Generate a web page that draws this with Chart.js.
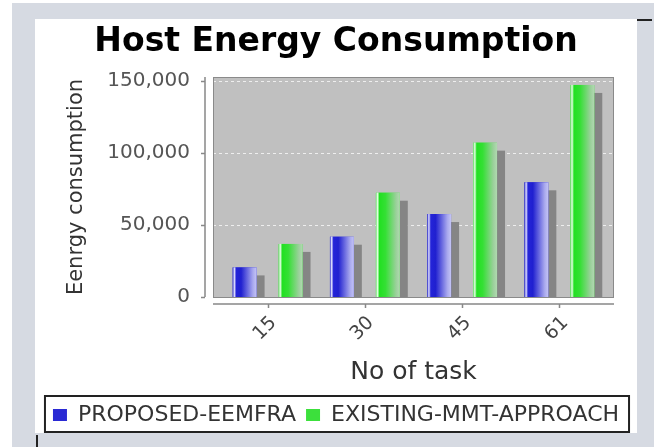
<!DOCTYPE html>
<html>
<head>
<meta charset="utf-8">
<script src="https://cdn.jsdelivr.net/npm/chart.js@4/dist/chart.umd.min.js"></script>
<style>
  html, body { margin: 0; padding: 0; background: #d6dae2; }
  #wrap { width: 654px; height: 447px; }
</style>
</head>
<body>
<div id="wrap"><canvas id="myChart" width="654" height="447"></canvas></div>
<script>
const tasks = ['15', '30', '45', '61'];
const proposed = [20500, 41800, 57500, 79500];
const existing = [36800, 72300, 107000, 147000];
const yTicks = [0, 50000, 100000, 150000];
const yMax = 152500;

const seriesNames = ['PROPOSED-EEMFRA', 'EXISTING-MMT-APPROACH'];
const baseColors = ['#2a2ad4', '#3ce03c'];
const gradStops = [
  [[0, '#3434c8'], [0.07, '#e4e4ff'], [0.15, '#2424d8'], [0.35, '#2020d0'], [0.85, '#aaaaee'], [1, '#c4c4f6']],
  [[0, '#70e070'], [0.07, '#e4ffe4'], [0.15, '#22e022'], [0.4, '#34e034'], [0.85, '#9cd09c'], [1, '#b0dab0']]
];

// backgrounds, plot area, shadows, gradients and axis lines
const painter = {
  id: 'painter',
  beforeDraw(chart) {
    const c = chart.ctx;
    const a = chart.chartArea;
    c.save();
    c.fillStyle = '#d6dae2';
    c.fillRect(0, 0, chart.width, chart.height);
    c.fillStyle = '#ffffff';
    c.fillRect(0, 0, 12, chart.height);
    c.fillRect(0, 0, chart.width, 3);
    c.fillRect(35, 19, 602, 414);
    // plot background
    c.fillStyle = '#c0c0c0';
    c.fillRect(a.left - 6, a.top, a.right - a.left + 12, a.bottom - a.top);
    // dashed grid
    const y = chart.scales.y;
    c.strokeStyle = '#eeeeee';
    c.lineWidth = 1;
    c.setLineDash([3, 3]);
    yTicks.forEach(v => {
      if (v === 0) return;
      const py = Math.round(y.getPixelForValue(v)) + 0.5;
      c.beginPath();
      c.moveTo(a.left - 6, py);
      c.lineTo(a.right + 6, py);
      c.stroke();
    });
    c.setLineDash([]);
    c.restore();
  },
  beforeDatasetsDraw(chart) {
    const c = chart.ctx;
    const a = chart.chartArea;
    c.save();
    c.beginPath();
    c.rect(a.left - 6, a.top, a.right - a.left + 12, a.bottom - a.top);
    c.clip();
    c.fillStyle = '#858585';
    chart.data.datasets.forEach((ds, i) => {
      chart.getDatasetMeta(i).data.forEach(bar => {
        c.fillRect(bar.x - bar.width / 2 + 8, bar.y + 8, bar.width, bar.base - bar.y);
      });
    });
    c.restore();
  },
  afterDatasetsDraw(chart) {
    const c = chart.ctx;
    c.save();
    chart.data.datasets.forEach((ds, i) => {
      chart.getDatasetMeta(i).data.forEach(bar => {
        const x0 = bar.x - bar.width / 2;
        const g = c.createLinearGradient(x0, 0, x0 + bar.width, 0);
        gradStops[i].forEach(s => g.addColorStop(s[0], s[1]));
        c.fillStyle = g;
        c.fillRect(x0, bar.y, bar.width, bar.base - bar.y);
      });
    });
    c.restore();
  },
  afterDraw(chart) {
    const c = chart.ctx;
    const a = chart.chartArea;
    const x = chart.scales.x;
    const y = chart.scales.y;
    c.save();
    // plot outline
    c.strokeStyle = '#8a8a8a';
    c.lineWidth = 1;
    c.strokeRect(a.left - 6 + 0.5, a.top + 0.5, a.right - a.left + 11, a.bottom - a.top);
    // y axis line + ticks
    c.strokeStyle = '#888888';
    c.lineWidth = 1.5;
    c.beginPath();
    c.moveTo(205, a.top);
    c.lineTo(205, a.bottom);
    yTicks.forEach(v => {
      const py = Math.round(y.getPixelForValue(v)) + 0.5;
      c.moveTo(201, py);
      c.lineTo(205, py);
    });
    // x axis line + ticks
    c.moveTo(a.left - 6, 304);
    c.lineTo(a.right + 6, 304);
    tasks.forEach((t, i) => {
      const px = Math.round(x.getPixelForValue(i)) + 0.5;
      c.moveTo(px, 304);
      c.lineTo(px, 308);
    });
    c.stroke();
    // legend frame
    const lg = chart.legend;
    if (lg && lg.legendHitBoxes.length) {
      const hb = lg.legendHitBoxes;
      const l = hb[0].left - 8;
      const r = hb[hb.length - 1].left + hb[hb.length - 1].width + 10;
      c.strokeStyle = '#222222';
      c.lineWidth = 2;
      c.strokeRect(l, lg.top + 2, r - l, 36);
    }
    // odd little marks of the screenshot frame
    c.fillStyle = '#222222';
    c.fillRect(36, 435, 2, 12);
    c.fillRect(637, 19, 15, 2);
    c.restore();
  }
};

const ctx = document.getElementById('myChart');

new Chart(ctx, {
  type: 'bar',
  data: {
    labels: tasks,
    datasets: [{
      label: seriesNames[0],
      data: proposed,
      backgroundColor: baseColors[0],
      categoryPercentage: 0.945,
      barPercentage: 0.52
    }, {
      label: seriesNames[1],
      data: existing,
      backgroundColor: baseColors[1],
      categoryPercentage: 0.945,
      barPercentage: 0.52
    }]
  },
  options: {
    responsive: false,
    animation: false,
    layout: { padding: { left: 35, right: 17, top: 0, bottom: 11 } },
    plugins: {
      title: {
        display: true,
        text: 'Host Energy Consumption',
        color: '#000000',
        font: { family: 'DejaVu Sans', size: 33, weight: 'bold' },
        padding: { top: 22.7, bottom: 14.7 }
      },
      legend: {
        position: 'bottom',
        labels: {
          boxWidth: 14,
          boxHeight: 12,
          padding: 10,
          color: '#333333',
          font: { family: 'DejaVu Sans', size: 22 }
        }
      },
      tooltip: { enabled: false }
    },
    scales: {
      x: {
        offset: true,
        grid: { display: false, drawTicks: false },
        border: { display: false },
        ticks: {
          minRotation: 45,
          maxRotation: 45,
          padding: 15,
          labelOffset: 6,
          color: '#444444',
          font: { family: 'DejaVu Sans', size: 19 }
        },
        title: {
          display: true,
          text: 'No of task',
          color: '#333333',
          font: { family: 'DejaVu Sans', size: 25 },
          padding: { top: 0, bottom: 6.6 }
        },
        afterFit(scale) {
          scale.height = 97;
          scale.paddingLeft = 0;
          scale.paddingRight = 46;
        }
      },
      y: {
        min: 0,
        max: yMax,
        grid: { display: false, drawTicks: false },
        border: { display: false },
        afterBuildTicks(scale) {
          scale.ticks = yTicks.map(v => ({ value: v }));
        },
        ticks: {
          padding: 29,
          color: '#555555',
          font: { family: 'DejaVu Sans', size: 20 },
          callback: v => v.toLocaleString('en-US')
        },
        title: {
          display: true,
          text: 'Eenrgy consumption',
          color: '#333333',
          font: { family: 'DejaVu Sans', size: 21 },
          padding: { top: 29.4, bottom: 0 }
        },
        afterFit(scale) {
          scale.width = 184;
        }
      }
    }
  },
  plugins: [painter]
});
</script>
</body>
</html>
